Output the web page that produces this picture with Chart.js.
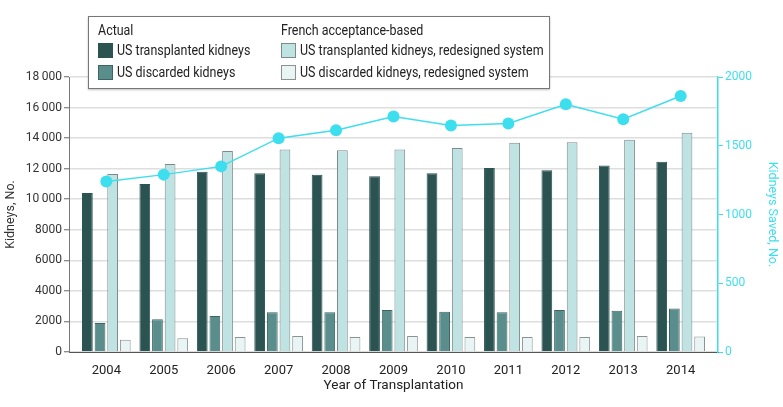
<!DOCTYPE html>
<html>
<head>
<meta charset="utf-8">
<script src="https://cdn.jsdelivr.net/npm/chart.js@4"></script>
<style>
  body { margin: 0; background: #fff; }
  #wrap { position: relative; width: 783px; height: 407px; }
  #legend {
    position: absolute; left: 88px; top: 16px; width: 460px; height: 71px;
    background: #fff; border: 1px solid #777; box-shadow: 0 1px 2px rgba(0,0,0,0.25);
    font-family: Roboto, sans-serif; font-size: 14px; color: #222;
  }
  .col { position: absolute; top: 4px; white-space: nowrap; }
  .hd { height: 18px; line-height: 18px; }
  .row { height: 22px; display: flex; align-items: center; }
  .sw { width: 15px; height: 15px; margin-right: 4px; box-sizing: border-box; border: 1px solid #555; flex: none; }
  .t { display: inline-block; transform: scaleX(0.89); transform-origin: left center; }
</style>
</head>
<body>
<div id="wrap">
  <canvas id="myChart" width="783" height="407"></canvas>
  <div id="legend">
    <div class="col" style="left:9px">
      <div class="hd"><span class="t">Actual</span></div>
      <div class="row"><span class="sw" id="sw0"></span><span class="t">US transplanted kidneys</span></div>
      <div class="row"><span class="sw" id="sw1"></span><span class="t">US discarded kidneys</span></div>
    </div>
    <div class="col" style="left:192px">
      <div class="hd"><span class="t">French acceptance-based</span></div>
      <div class="row"><span class="sw" id="sw2"></span><span class="t">US transplanted kidneys, redesigned system</span></div>
      <div class="row"><span class="sw" id="sw3"></span><span class="t">US discarded kidneys, redesigned system</span></div>
    </div>
  </div>
</div>
<script>
const years = ['2004', '2005', '2006', '2007', '2008', '2009', '2010', '2011', '2012', '2013', '2014'];
const transplanted = [10400, 11000, 11800, 11700, 11600, 11500, 11700, 12050, 11900, 12200, 12450];
const discarded = [1900, 2150, 2350, 2600, 2600, 2750, 2630, 2600, 2750, 2700, 2850];
const transplantedRedesigned = [11650, 12300, 13150, 13250, 13200, 13250, 13350, 13700, 13730, 13900, 14350];
const discardedRedesigned = [800, 900, 980, 1050, 980, 1050, 980, 980, 980, 1050, 1020];
const kidneysSaved = [1240, 1290, 1350, 1555, 1613, 1713, 1647, 1662, 1802, 1693, 1862];
const leftTicks = [0, 2000, 4000, 6000, 8000, 10000, 12000, 14000, 16000, 18000];
const rightTicks = [0, 500, 1000, 1500, 2000];

const cyan = '#3ddfee';
const barColors = ['#2b5351', '#5a8e8d', '#bfe3e3', '#e9f4f4'];
const barBorders = ['#2b5351', '#3e6563', '#7d8a8a', '#8a9292'];
const font = "Roboto, sans-serif";

barColors.forEach((c, i) => {
  const el = document.getElementById('sw' + i);
  el.style.background = c;
  el.style.borderColor = barBorders[i];
});

function pts(arr) {
  return arr.map((v, i) => ({ x: i, y: v }));
}
function thin(v) {
  const s = String(v);
  return v >= 10000 ? s.slice(0, -3) + '\u2009' + s.slice(-3) : s;
}

const barSets = [transplanted, discarded, transplantedRedesigned, discardedRedesigned].map((arr, i) => ({
  type: 'bar',
  data: pts(arr),
  backgroundColor: barColors[i],
  borderColor: barBorders[i],
  borderWidth: 1,
  yAxisID: 'y',
  order: 1,
  categoryPercentage: 0.88,
  barPercentage: 0.85
}));

const ctx = document.getElementById('myChart');
new Chart(ctx, {
  data: {
    datasets: [
      {
        type: 'line',
        data: pts(kidneysSaved),
        borderColor: cyan,
        backgroundColor: cyan,
        borderWidth: 1.5,
        pointRadius: 6,
        pointBorderWidth: 0,
        yAxisID: 'y1',
        order: 0
      },
      ...barSets
    ]
  },
  options: {
    responsive: false,
    animation: false,
    layout: { padding: { top: 77, left: 0, right: 0, bottom: 0 } },
    plugins: { legend: { display: false }, tooltip: { enabled: false } },
    scales: {
      x: {
        type: 'linear',
        min: -0.65,
        max: 10.65,
        bounds: 'data',
        offset: false,
        afterBuildTicks: s => { s.ticks = years.map((_, i) => ({ value: i })); },
        afterFit: s => { s.height = 55; },
        grid: { display: true, offset: false, drawOnChartArea: false, drawTicks: false },
        border: { color: '#555', width: 1 },
        ticks: {
          padding: 11,
          color: '#222',
          font: { family: font, size: 13 },
          callback: v => years[v] || ''
        },
        title: {
          display: true,
          text: 'Year of Transplantation',
          color: '#222',
          font: { family: font, size: 13.5 },
          padding: { top: 0, bottom: 13 }
        }
      },
      y: {
        position: 'left',
        min: 0,
        max: 18000,
        afterBuildTicks: s => { s.ticks = leftTicks.map(v => ({ value: v })); },
        afterFit: s => { s.width = 69; },
        grid: { color: '#dedede', lineWidth: 1.5, tickColor: '#666', tickLength: 5, tickWidth: 1 },
        border: { color: '#777', width: 1 },
        ticks: { padding: 2, color: '#333', font: { family: font, size: 12 }, callback: v => thin(v) },
        title: {
          display: true,
          text: 'Kidneys, No.',
          color: '#333',
          font: { family: font, size: 12.5 },
          padding: { top: 3, bottom: 0 }
        }
      },
      y1: {
        position: 'right',
        min: 0,
        max: 2000,
        afterBuildTicks: s => { s.ticks = rightTicks.map(v => ({ value: v })); },
        afterFit: s => { s.width = 65; },
        grid: { drawOnChartArea: false, tickColor: cyan, tickLength: 5, tickWidth: 1 },
        border: { color: cyan, width: 1.5 },
        ticks: { padding: 2, color: cyan, font: { family: font, size: 12 }, callback: v => String(v) },
        title: {
          display: true,
          text: 'Kidneys Saved, No.',
          color: cyan,
          font: { family: font, size: 12.5 },
          padding: { top: 3, bottom: 0 }
        }
      }
    }
  }
});
</script>
</body>
</html>
